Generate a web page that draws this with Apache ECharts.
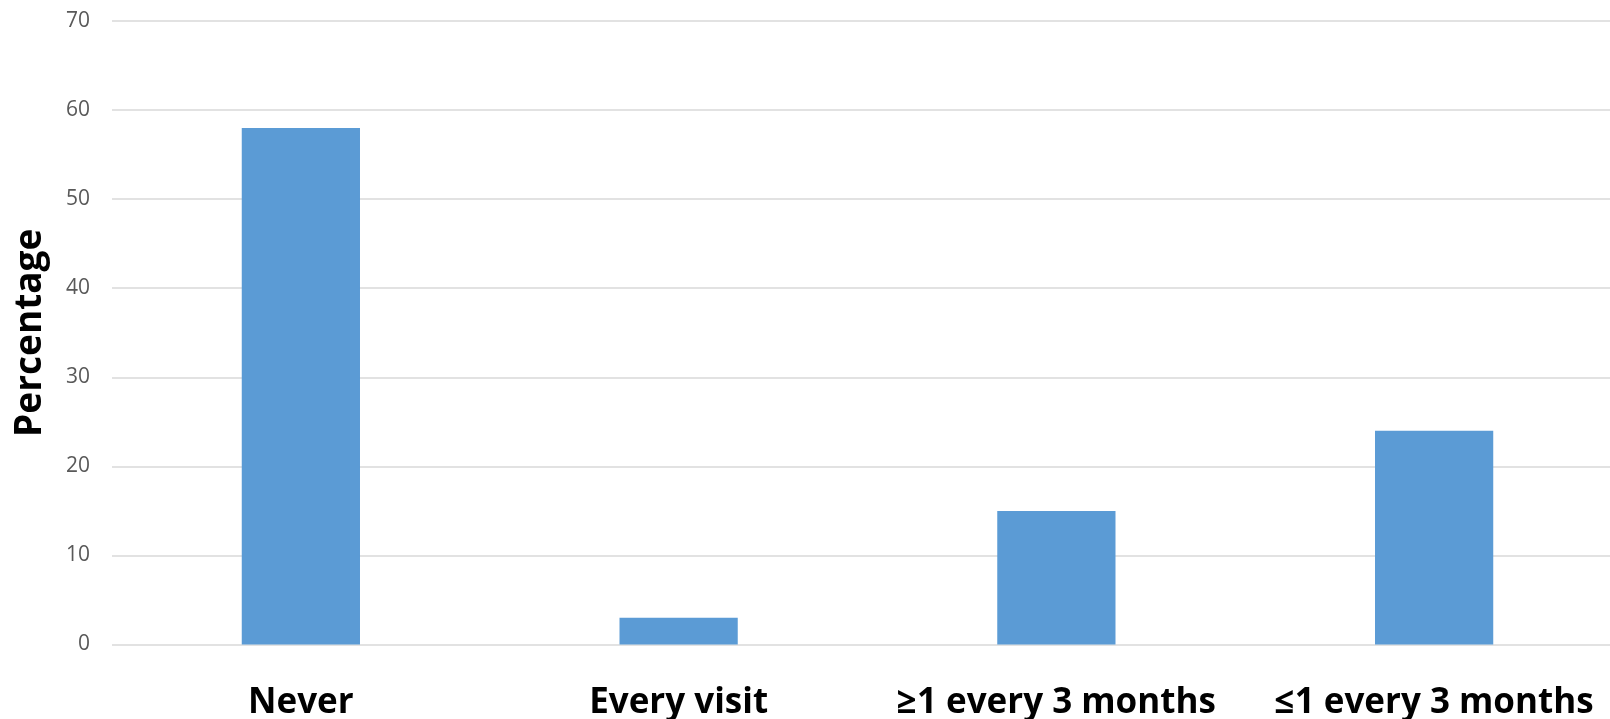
<!DOCTYPE html>
<html><head><meta charset="utf-8">
<script src="https://cdn.jsdelivr.net/npm/echarts@6/dist/echarts.min.js"></script>
<style>html,body{margin:0;padding:0;background:#fff}#c{width:1610px;height:719px}</style>
</head><body><div id="c"></div>
<script>
const categories = ['Never', 'Every visit', '\u22651 every 3 months', '\u22641 every 3 months'];
const percentages = [58, 3, 15, 24];
const yTicks = { min: 0, max: 70, interval: 10 };

const chart = echarts.init(document.getElementById('c'));
chart.setOption({
  animation: false,
  grid: { left: 112, width: 1511, top: 21, bottom: 74.5, containLabel: false, outerBoundsMode: 'none' },
  xAxis: {
    type: 'category',
    data: categories,
    axisLine: { show: false },
    axisTick: { show: false },
    axisLabel: { color: '#000', fontFamily: 'Open Sans', fontWeight: 'bold', fontSize: 35, margin: 41, interval: 0 }
  },
  yAxis: {
    type: 'value',
    min: yTicks.min, max: yTicks.max, interval: yTicks.interval,
    name: 'Percentage',
    nameLocation: 'middle',
    nameGap: 63,
    nameRotate: 90,
    nameTextStyle: { color: '#000', fontFamily: 'Open Sans', fontWeight: 'bold', fontSize: 37 },
    axisLine: { show: false },
    axisTick: { show: false },
    axisLabel: { color: '#595959', fontFamily: 'Open Sans', fontSize: 21, margin: 22 },
    splitLine: { lineStyle: { color: '#d9d9d9', width: 1.5 } }
  },
  series: [{
    type: 'bar',
    data: percentages,
    barWidth: '31.3%',
    itemStyle: { color: '#5b9bd5' }
  }]
});
</script></body></html>
